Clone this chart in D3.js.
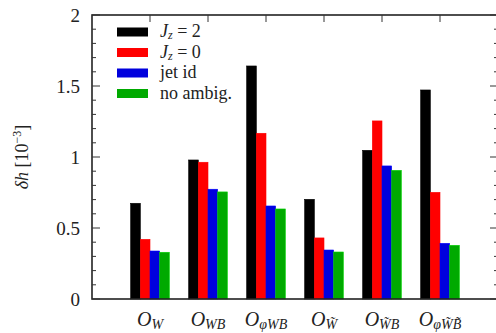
<!DOCTYPE html>
<html><head><meta charset="utf-8">
<script src="https://cdn.jsdelivr.net/npm/d3@7"></script>
<style>
html body{margin:0;background:#fff}
#wrap{position:relative;width:496px;height:333px;overflow:hidden}
svg{display:block;position:absolute;left:0;top:0}
.lab{position:absolute;line-height:1;white-space:nowrap;color:#222;font-family:'Liberation Serif','Times New Roman',serif}
.sub{position:relative;font-style:italic;line-height:0}
</style>
</head><body>
<div id="wrap"><svg id="c" width="496" height="333"></svg></div>
<script>
const categories = ["W","WB","φWB","W̃","W̃B","φW̃B̃"];
const seriesNames = ["J_z = 2","J_z = 0","jet id","no ambig."];
const jz2     = [0.674, 0.979, 1.641, 0.702, 1.047, 1.472];
const jz0     = [0.420, 0.963, 1.167, 0.430, 1.254, 0.751];
const jetId   = [0.338, 0.773, 0.655, 0.345, 0.937, 0.392];
const noAmbig = [0.329, 0.754, 0.634, 0.331, 0.906, 0.378];
const yTicks = [0, 0.5, 1, 1.5, 2];
const yTickLabels = ["0","0.5","1","1.5","2"];
const colors = ["#000000","#ff0000","#0000dd","#00aa00"];

const series = [jz2, jz0, jetId, noAmbig];
const svg = d3.select("#c");
const wrap = d3.select("#wrap");
const L = 92, R = 498, T = 15, B = 299;
const x = d3.scaleLinear().domain([-1, 6]).range([L, R]);
const y = d3.scaleLinear().domain([0, 2]).range([B, T]);
const bw = (x(1) - x(0)) / 6;

function lab(html, px, baseline, size, anchor) {
  const tx = anchor === "end" ? "-100%" : anchor === "middle" ? "-50%" : "0";
  return wrap.append("div").attr("class", "lab")
    .style("left", px + "px").style("top", (baseline - 0.84 * size) + "px")
    .style("font-size", size + "px").style("transform", `translateX(${tx})`)
    .html(html);
}

// bars
series.forEach((s, si) => {
  svg.append("g").selectAll("rect").data(s).join("rect")
    .attr("x", (d, i) => x(i) - 2 * bw + si * bw)
    .attr("width", bw)
    .attr("y", d => y(d))
    .attr("height", d => y(0) - y(d))
    .attr("fill", colors[si])
    .attr("stroke", d3.color(colors[si]).brighter(0.6))
    .attr("stroke-width", 0.6);
});

// frame
svg.append("rect").attr("x", L).attr("y", T).attr("width", R - L).attr("height", B - T)
  .attr("fill", "none").attr("stroke", "#222").attr("stroke-width", 1.6);

// y ticks
const minor = d3.range(0, 2.0001, 0.1);
const tg = svg.append("g").attr("stroke", "#333").attr("stroke-width", 1);
minor.forEach(v => {
  const major = Math.abs(v * 2 - Math.round(v * 2)) < 1e-6;
  const len = major ? 8 : 4;
  tg.append("line").attr("x1", L).attr("x2", L + len).attr("y1", y(v)).attr("y2", y(v));
  tg.append("line").attr("x1", R).attr("x2", R - len).attr("y1", y(v)).attr("y2", y(v));
});
categories.forEach((c, i) => {
  tg.append("line").attr("x1", x(i)).attr("x2", x(i)).attr("y1", T).attr("y2", T + 7);
});

// y tick labels
yTicks.forEach((v, i) => lab(yTickLabels[i], 80, y(v) + 6.5, 19, "end"));

// x labels
categories.forEach((c, i) => {
  lab(`<i>O</i><span class="sub" style="font-size:14px;top:3px">${c}</span>`, x(i), 326, 20, "middle");
});

// y label (rotated)
wrap.append("div").attr("class", "lab")
  .style("font-size", "18px")
  .style("left", "22px").style("top", y(1) + "px")
  .style("transform", "translate(-50%,-50%) rotate(-90deg)")
  .html(`<i>δh</i> [10<span style="font-size:12px;position:relative;top:-7px">−3</span>]`);

// legend
const legendHtml = [
  `<i>J</i><span class="sub" style="font-size:12px;top:2px">z</span> = 2`,
  `<i>J</i><span class="sub" style="font-size:12px;top:2px">z</span> = 0`,
  seriesNames[2],
  seriesNames[3]
];
legendHtml.forEach((h, i) => {
  const cy = 32 + i * 20.5;
  svg.append("rect").attr("x", 117).attr("y", cy - 4.5).attr("width", 31).attr("height", 9)
    .attr("fill", colors[i]);
  lab(h, 160, cy + 5.5, 18, "start");
});
</script>
</body></html>
